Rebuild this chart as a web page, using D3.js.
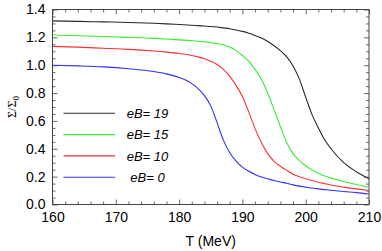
<!DOCTYPE html>
<html><head><meta charset="utf-8">
<script src="https://cdn.jsdelivr.net/npm/d3@7"></script>
<style>body{margin:0;background:#fff}svg{display:block}</style>
</head><body>
<script>
const T = [160,164,168,172,176,178,180,182,183,184,185,186,187,188,189,190,191,192,193,194,195,196,197,198,199,200,201,202,203,204,206,208,210];
const eB19 = [1.318,1.315,1.311,1.307,1.301,1.297,1.292,1.287,1.284,1.281,1.278,1.274,1.268,1.262,1.253,1.243,1.230,1.214,1.195,1.170,1.140,1.105,1.060,0.995,0.900,0.770,0.645,0.550,0.465,0.400,0.300,0.235,0.185];
const eB15 = [1.217,1.212,1.206,1.200,1.193,1.188,1.182,1.176,1.172,1.168,1.163,1.155,1.145,1.130,1.105,1.070,1.030,0.970,0.900,0.800,0.680,0.560,0.445,0.365,0.315,0.278,0.248,0.225,0.205,0.190,0.165,0.143,0.122];
const eB10 = [1.135,1.130,1.122,1.114,1.102,1.094,1.084,1.070,1.060,1.046,1.028,1.005,0.970,0.920,0.855,0.775,0.665,0.545,0.445,0.365,0.310,0.275,0.245,0.218,0.200,0.185,0.172,0.160,0.150,0.140,0.125,0.112,0.100];
const eB0  = [1.000,0.995,0.988,0.975,0.955,0.938,0.912,0.868,0.832,0.782,0.708,0.588,0.462,0.372,0.312,0.268,0.238,0.216,0.198,0.185,0.172,0.162,0.152,0.141,0.132,0.125,0.118,0.112,0.107,0.102,0.093,0.085,0.075];
const seriesNames = ["eB=19","eB=15","eB=10","eB=0"];
const seriesValues = [eB19, eB15, eB10, eB0];
const colors = ["#2a2a2a","#33ee33","#ff3030","#3030ff"];
const xTicks = [160,170,180,190,200,210];
const yTicks = [0.0,0.2,0.4,0.6,0.8,1.0,1.2,1.4];

const W = 382, H = 251;
const L = 52.5, R = 369, Tp = 9.5, B = 204.5;
const svg = d3.select("body").append("svg").attr("width", W).attr("height", H);
const x = d3.scaleLinear().domain([160,210]).range([L,R]);
const y = d3.scaleLinear().domain([0,1.4]).range([B,Tp]);
const axisColor = "#444";

const xMinor = d3.range(160,210.01,2).filter(v => v % 10 !== 0);
const yMinor = d3.range(0,1.401,0.05).map(v => +v.toFixed(2)).filter(v => Math.abs(v*5 - Math.round(v*5)) > 1e-6);

function styleAxis(g){ g.select(".domain").remove(); g.selectAll("line").attr("stroke", axisColor).attr("stroke-width",0.8); }

svg.append("g").attr("transform",`translate(0,${B})`)
  .call(d3.axisBottom(x).tickValues(xTicks).tickSize(-5).tickPadding(8).tickFormat(d3.format("d")))
  .call(styleAxis).call(g=>g.selectAll("text").attr("font-family","Liberation Sans, Arial, sans-serif").attr("font-size","14px").attr("fill","#000"));
svg.append("g").attr("transform",`translate(0,${B})`)
  .call(d3.axisBottom(x).tickValues(xMinor).tickSize(-3).tickFormat("")).call(styleAxis);
svg.append("g").attr("transform",`translate(0,${Tp})`)
  .call(d3.axisTop(x).tickValues(xTicks).tickSize(-5).tickFormat("")).call(styleAxis);
svg.append("g").attr("transform",`translate(0,${Tp})`)
  .call(d3.axisTop(x).tickValues(xMinor).tickSize(-3).tickFormat("")).call(styleAxis);
svg.append("g").attr("transform",`translate(${L},0)`)
  .call(d3.axisLeft(y).tickValues(yTicks).tickSize(-5).tickPadding(7).tickFormat(d3.format(".1f")))
  .call(styleAxis).call(g=>g.selectAll("text").attr("font-family","Liberation Sans, Arial, sans-serif").attr("font-size","14px").attr("fill","#000"));
svg.append("g").attr("transform",`translate(${L},0)`)
  .call(d3.axisLeft(y).tickValues(yMinor).tickSize(-3).tickFormat("")).call(styleAxis);
svg.append("g").attr("transform",`translate(${R},0)`)
  .call(d3.axisRight(y).tickValues(yTicks).tickSize(-5).tickFormat("")).call(styleAxis);
svg.append("g").attr("transform",`translate(${R},0)`)
  .call(d3.axisRight(y).tickValues(yMinor).tickSize(-3).tickFormat("")).call(styleAxis);

svg.append("rect").attr("x",L).attr("y",Tp).attr("width",R-L).attr("height",B-Tp)
  .attr("fill","none").attr("stroke",axisColor).attr("stroke-width",1);

const line = d3.line().x(d=>x(d[0])).y(d=>y(d[1])).curve(d3.curveMonotoneX);
seriesValues.forEach((vals,i)=>{
  svg.append("path").datum(T.map((t,j)=>[t,vals[j]]))
    .attr("d",line).attr("fill","none").attr("stroke",colors[i]).attr("stroke-width",1.1);
});

const legY0 = 113.3, legDy = 21.3;
seriesNames.forEach((n,i)=>{
  const yy = legY0 + i*legDy;
  svg.append("line").attr("x1",63.5).attr("x2",115).attr("y1",yy).attr("y2",yy)
    .attr("stroke",colors[i]).attr("stroke-width",1.1);
  svg.append("text").attr("x",147.5).attr("y",yy).attr("dy","0.36em").attr("text-anchor","middle")
    .attr("font-family","Liberation Sans, Arial, sans-serif").attr("font-style","italic").attr("font-size","13px")
    .attr("fill","#000").text(n.replace("=","= "));
});

svg.append("text").attr("x",(L+R)/2).attr("y",246).attr("text-anchor","middle")
  .attr("font-family","Liberation Sans, Arial, sans-serif").attr("font-size","14px").attr("fill","#000").text("T (MeV)");
const yl = svg.append("text").attr("transform",`translate(16,${(Tp+B)/2}) rotate(-90)`).attr("text-anchor","middle")
  .attr("font-family","Liberation Serif, Times New Roman, serif").attr("font-size","12px").attr("fill","#000");
yl.append("tspan").text("Σ/Σ");
yl.append("tspan").attr("font-size","9px").attr("dy","3").text("0");
</script>
</body></html>
